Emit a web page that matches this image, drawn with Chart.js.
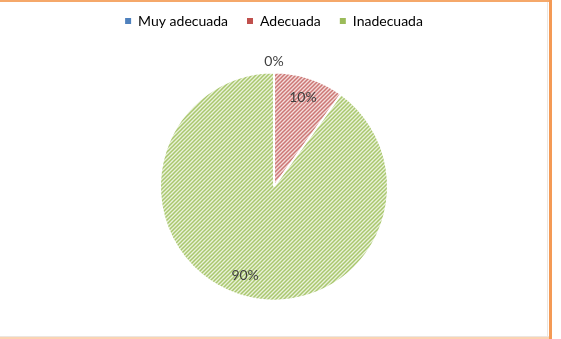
<!DOCTYPE html>
<html>
<head>
<meta charset="utf-8">
<script src="https://cdn.jsdelivr.net/npm/chart.js@4.4.1/dist/chart.umd.min.js"></script>
<style>
  body { margin: 0; background: #fff; }
  #page { position: relative; width: 561px; height: 339px; overflow: hidden; }
  #wrap { position: absolute; left: 0; top: -5px; width: 548px; height: 344px; }
  .edge { position: absolute; }
</style>
</head>
<body>
<div id="page">
  <div id="wrap"><canvas id="pieChart"></canvas></div>
  <div class="edge" style="left:0;top:0;width:552px;height:2px;background:#f5a86a"></div>
  <div class="edge" style="left:547px;top:2px;width:1px;height:335px;background:#ebe6e1"></div>
  <div class="edge" style="left:0;top:336px;width:549px;height:1px;background:#ebe6e1"></div>
  <div class="edge" style="left:0;top:337px;width:549px;height:2px;background:#fbd3b3"></div>
  <div class="edge" style="left:549px;top:0;width:3px;height:339px;background:#f49a55"></div>
</div>
<script>
const categories = ["Muy adecuada", "Adecuada", "Inadecuada"];
const values = [0, 10, 90];
const solidColors = ["#4f81bd", "#c0504d", "#9bbb59"];
const paleColors = ["#dce6f2", "#f4dcdb", "#eaf2da"];
const stripeColors = ["#6f94c6", "#cc7775", "#a9c76e"];

// diagonal "/" hatch like the office wide upward diagonal fill
function hatch(bg, fg) {
  const c = document.createElement("canvas");
  c.width = 4; c.height = 4;
  const g = c.getContext("2d");
  g.fillStyle = bg;
  g.fillRect(0, 0, 4, 4);
  g.strokeStyle = fg;
  g.lineWidth = 1.5;
  g.beginPath();
  g.moveTo(-1, 5); g.lineTo(5, -1);
  g.moveTo(-3, 3); g.lineTo(3, -3);
  g.moveTo(1, 7); g.lineTo(7, 1);
  g.stroke();
  return g.createPattern(c, "repeat");
}

const labelFont = "Lato, 'Liberation Sans', sans-serif";

const pctLabels = {
  id: "pctLabels",
  afterDatasetsDraw(chart) {
    const ctx = chart.ctx;
    const meta = chart.getDatasetMeta(0);
    ctx.save();
    ctx.font = "14px " + labelFont;
    ctx.fillStyle = "#404040";
    ctx.textAlign = "center";
    ctx.textBaseline = "middle";
    meta.data.forEach((arc, i) => {
      const mid = (arc.startAngle + arc.endAngle) / 2;
      const r = values[i] === 0 ? arc.outerRadius + 11 : arc.outerRadius * 0.82;
      const x = arc.x + Math.cos(mid) * r;
      const y = arc.y + Math.sin(mid) * r;
      ctx.fillText(values[i] + "%", x, y);
    });
    ctx.restore();
  }
};

new Chart(document.getElementById("pieChart"), {
  type: "pie",
  data: {
    labels: categories,
    datasets: [{
      data: values,
      backgroundColor: categories.map((_, i) => hatch(paleColors[i], stripeColors[i])),
      borderColor: "#ffffff",
      borderWidth: 2,
      radius: 114
    }]
  },
  options: {
    responsive: true,
    maintainAspectRatio: false,
    animation: false,
    layout: { padding: { top: 0, bottom: 4, left: 0, right: 0 } },
    plugins: {
      tooltip: { enabled: false },
      legend: {
        position: "top",
        labels: {
          boxWidth: 6,
          boxHeight: 6,
          padding: 19,
          color: "#404040",
          font: { family: labelFont, size: 14 },
          generateLabels: (chart) => categories.map((c, i) => ({
            text: c,
            fillStyle: solidColors[i],
            strokeStyle: solidColors[i],
            lineWidth: 0,
            index: i
          }))
        }
      }
    }
  },
  plugins: [pctLabels]
});
</script>
</body>
</html>
